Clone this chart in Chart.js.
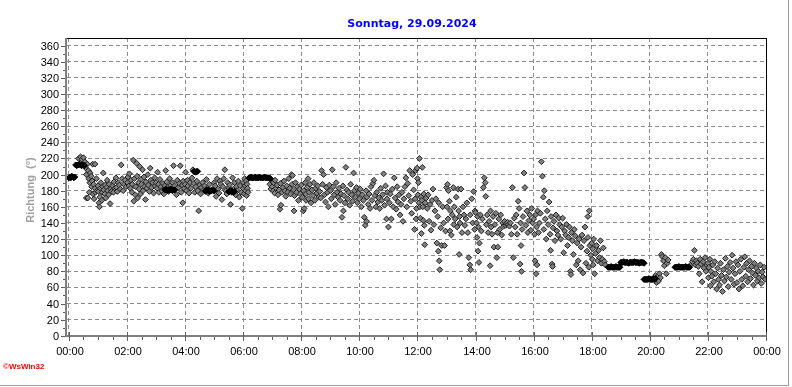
<!DOCTYPE html>
<html>
<head>
<meta charset="utf-8">
<script src="https://cdn.jsdelivr.net/npm/chart.js@4.4.1/dist/chart.umd.min.js"></script>
<style>
    html, body { margin: 0; padding: 0; background: #ffffff; }
    canvas { display: block; }
</style>
</head>
<body>
<canvas id="windChart" width="792" height="387"></canvas>
<script>
// Texte
const titel = 'Sonntag, 29.09.2024';
const yTitel = 'Richtung  (°)';
const copyright = '©WsWin32';

// Achsen (Zeit in Minuten seit Mitternacht)
const xTicks = [0, 120, 240, 360, 480, 600, 720, 840, 960, 1080, 1200, 1320, 1440];
const xTickLabels = ['00:00', '02:00', '04:00', '06:00', '08:00', '10:00', '12:00',
    '14:00', '16:00', '18:00', '20:00', '22:00', '00:00'];
const yTicks = [0, 20, 40, 60, 80, 100, 120, 140, 160, 180, 200, 220, 240, 260, 280, 300, 320, 340, 360];

// Messwerte [Minute, Richtung]
const punkteNacht = [
    [20,220],[24,222],[27,219],[30,221],[33,216],[35,208],[36,200],[36,171],[38,213],[39,171],[40,205],[41,195],
    [42,178],[43,190],[44,202],[46,198],[47,185],[48,192],[49,213],[50,176],[51,188],[52,170],[54,183],[54,213],
    [55,178],[57,195],[58,180],[60,186],
    [61,179],[62,165],[63,160],[64,172],[65,183],[66,190],[68,168],[69,178],[70,185],[71,202],[72,181],[74,176],
    [75,187],[76,171],[78,184],[79,193],[80,180],[82,175],[83,188],[85,164],[86,182],[88,179],[90,186],[92,178],
    [93,191],[95,183],[97,196],[98,184],[100,179],[102,190],[104,187],[106,182],[108,212],[110,195],[112,180],
    [114,188],[116,193],[118,185],
    [121,190],[122,197],[124,186],[125,201],[127,183],[128,193],[130,178],[131,188],[133,218],[134,167],[135,195],
    [137,175],[138,185],[140,214],[141,198],[142,171],[144,190],[145,182],[146,210],[148,176],[149,194],[150,188],
    [152,206],[153,180],[155,197],[156,185],[158,169],[159,191],[161,183],[163,200],[164,187],[166,179],[168,208],
    [169,193],[171,184],[173,190],[175,177],[177,196],[178,186],
    [180,190],[182,183],[183,203],[185,188],[186,178],[188,194],[190,185],[192,180],[194,189],[196,176],[198,186],
    [200,205],[202,191],[204,184],[206,179],[208,195],[210,187],[212,182],[214,190],[216,211],[218,186],[220,181],
    [222,175],[224,193],[226,184],[228,189],[230,211],[232,178],[234,187],[235,165],[236,192],[238,183],
    [240,188],[241,203],[243,180],[245,193],[246,186],[248,177],[250,190],[252,183],[254,196],[256,206],[258,189],
    [260,178],[262,185],[264,192],[266,180],[268,155],[270,187],[272,176],[274,184],[276,190],[278,181],[280,186],
    [282,179],[284,194],[286,183],[288,177],[290,188],
    [300,190],[302,186],[304,173],[306,195],[308,182],[310,177],[312,192],[314,188],[316,169],[318,185],[320,195],
    [322,206],[324,180],[326,176],[328,190],[330,184],[332,187],[334,163],[336,178],[338,196],[340,182],[342,190],
    [344,175],[346,185],[348,180],[350,192],[352,172],[354,186],[356,178],[358,158]
];

const punkteVormittag = [
    [360,183],[361,190],[362,176],[363,195],[364,186],[365,180],[366,192],[367,174],[368,188],[369,183],[370,178],
    [415,188],[417,182],[419,192],
    [420,185],[422,180],[423,190],[425,177],[426,193],[428,183],[430,187],[432,175],[434,181],[436,157],[437,189],
    [438,162],[440,178],[442,184],[444,192],[446,180],[448,173],[450,186],[452,178],[454,195],[456,183],[458,176],
    [460,200],[461,188],[462,199],[464,181],[465,155],[466,174],[468,190],[470,178],[472,185],[474,168],[476,182],
    [478,176],
    [480,187],[482,172],[484,155],[485,180],[486,158],[488,190],[489,176],[490,168],[492,184],[494,195],[495,170],
    [496,178],[498,188],[500,165],[502,181],[504,174],[506,190],[508,168],[510,183],[512,177],[514,186],[516,172],
    [518,179],[520,171],[522,205],[524,188],[526,200],[528,175],[530,166],[532,184],[534,178],[536,160],[538,187],
    [540,180],[542,170],[544,206],[546,185],[548,175],[550,163],[552,190],[554,178],[556,172],[558,183],[560,168],
    [562,176],[564,147],[566,186],[567,155],[568,174],[570,165],[572,209],[574,181],[576,170],[578,178],[580,162],
    [582,188],[584,175],[586,167],[588,202],[590,180],[592,172],[594,184],[596,165],[598,177],
    [600,170],[602,182],[604,160],[606,175],[608,168],[610,147],[612,137],[614,180],[615,142],[616,172],[618,163],
    [620,176],[622,158],[624,185],[626,168],[628,189],[630,193],[632,174],[634,160],[636,178],[638,166],[640,171],
    [642,158],[644,183],[646,168],[648,175],[650,201],[652,162],[654,186],[656,145],[657,170],[658,178],[660,135],
    [662,165],[664,176],[666,145],[668,182],[670,160],[672,196],[674,171],[676,157],[678,185],[680,166],[682,175],
    [684,150],[686,163],[688,178],[690,142],[692,170],[694,185],[696,196],[698,160],[700,189],[702,174],[704,205],
    [706,167],[708,152],[710,200],[712,181],[714,132],[715,170],[716,205],[717,145],[718,158],[719,208]
];

const punkteNachmittag = [
    [720,195],[721,175],[722,190],[723,165],[724,220],[725,160],[726,146],[727,172],[728,127],[729,168],[730,209],
    [731,160],[732,143],[733,176],[734,137],[735,113],[736,165],[738,171],[740,158],[742,175],[744,142],[746,163],
    [748,131],[750,168],[752,182],[754,138],[756,155],[758,170],[760,115],[762,148],[763,105],[764,165],[765,93],
    [766,82],[768,134],[770,112],[772,160],[774,140],[776,112],[778,130],
    [780,184],[781,160],[782,188],[783,145],[784,180],[786,167],[787,130],[788,155],[790,125],[792,150],[794,184],
    [795,138],[796,160],[798,145],[800,172],[802,135],[804,182],[805,155],[806,101],[807,148],[808,140],[810,182],
    [812,128],[814,160],[816,150],[818,137],[820,145],[822,165],[824,128],[826,97],[828,88],[829,150],[830,82],
    [832,170],[834,140],[836,179],[838,132],[839,155],
    [840,153],[842,140],[843,122],[844,148],[845,105],[846,135],[847,91],[848,115],[850,150],[852,130],[854,145],
    [856,184],[858,196],[860,190],[861,173],[862,138],[864,150],[866,128],[868,142],[870,87],[871,155],[872,135],
    [874,126],[876,148],[878,110],[880,138],[882,152],[884,97],[885,128],[886,110],[888,145],[890,132],[892,150],
    [894,125],[896,140],[898,136],
    [900,142],[902,137],[904,139],[906,141],[908,138],[910,136],[912,140],[914,126],[916,184],[918,97],[920,146],
    [922,135],[924,150],[926,126],[928,167],[930,158],[932,89],[933,140],[934,112],[935,80],[936,132],[938,148],
    [940,202],[942,184],[944,137],[946,155],[948,128],[950,143],[952,150],[954,131],[956,158],[958,140],
    [960,145],[962,126],[963,93],[964,150],[965,77],[966,135],[967,88],[968,155],[970,128],[972,140],[974,152],
    [976,216],[978,198],[980,172],[981,132],[982,180],[984,145],[986,120],[988,155],[990,138],[992,166],[994,126],
    [995,106],[996,148],[998,89],[999,86],[1000,134],[1002,142],[1004,118],[1006,150],[1008,130],[1010,125],
    [1012,146],[1014,138],[1016,120],[1018,135],
    [1020,146],[1022,103],[1024,130],[1026,125],[1028,138],[1030,112],[1032,122],[1034,135],[1036,80],[1037,76],
    [1038,128],[1040,118],[1042,101],[1044,132],[1046,124],[1048,88],[1050,115],[1052,93],[1054,120],[1056,82],
    [1058,110],[1060,125],[1062,78],[1064,118],[1066,135],[1068,90],[1070,105],[1072,148],[1072,122],[1074,85],
    [1075,155],[1076,112],[1078,100]
];

const punkteAbend = [
    [1080,115],[1081,95],[1082,108],[1083,88],[1084,120],[1086,77],[1088,102],[1090,112],[1092,93],[1094,106],
    [1096,97],[1098,118],[1100,90],[1102,95],[1104,109],[1106,92],[1108,88],
    [1210,70],[1212,75],[1214,66],[1216,73],[1218,68],[1220,77],[1222,72],[1224,101],[1226,98],[1228,93],[1230,87],
    [1232,97],[1234,77],[1236,90],[1238,94],
    [1286,89],[1288,92],[1290,95],[1292,106],[1294,88],[1296,93],[1298,90],[1300,86],[1302,77],[1304,95],[1306,89],
    [1308,67],[1310,92],[1312,84],[1314,97],[1316,80],[1318,88],
    [1320,90],[1321,72],[1322,85],[1324,95],[1325,62],[1326,80],[1328,74],[1330,88],[1332,67],[1334,92],[1336,77],
    [1338,58],[1340,84],[1342,70],[1344,63],[1346,90],[1348,75],[1350,55],[1352,82],[1354,68],[1356,96],[1358,73],
    [1360,86],[1362,61],[1364,79],[1366,91],[1368,70],[1370,100],[1372,84],[1374,64],[1376,77],[1378,92],
    [1380,66],[1382,88],[1384,58],[1386,80],[1388,95],[1390,70],[1392,62],[1394,85],[1396,98],[1398,74],[1400,90],
    [1402,67],[1404,82],[1406,93],[1408,71],[1410,86],[1412,78],[1414,63],[1416,90],[1418,75],[1420,84],[1422,68],
    [1424,80],[1426,72],[1428,88],[1430,65],[1432,79],[1434,73],[1436,85],[1438,70]
];

// Phasen mit konstanter Richtung (erscheinen als schwarze Balken)
const konstantePhasen = [
    [0,196],[2,197],[4,196],[6,198],[8,197],[10,196],[12,197],
    [14,212],[16,211],[18,212],[20,212],[22,213],[24,212],[26,211],[28,212],[30,212],[32,211],
    [198,181],[200,182],[202,181],[204,180],[206,181],[208,181],[210,182],[212,181],[214,180],[216,181],[218,181],
    [258,204],[260,204],[262,203],[264,204],[266,204],
    [282,180],[284,180],[286,181],[288,180],[290,179],[292,180],[294,180],[296,181],[298,180],[300,180],
    [330,179],[332,179],[334,180],[336,179],[338,179],[340,178],[342,179],
    [372,196],[374,196],[376,197],[378,196],[380,196],[382,196],[384,197],[386,196],[388,196],[390,196],[392,196],
    [394,197],[396,196],[398,196],[400,196],[402,196],[404,197],[406,196],[408,196],[410,196],[412,196],[414,196],
    [416,195],
    [1114,85],[1116,85],[1118,85],[1120,86],[1122,85],[1124,85],[1126,85],[1128,85],[1130,86],[1132,85],[1134,85],
    [1136,85],[1138,85],
    [1140,91],[1142,91],[1144,91],[1146,92],[1148,91],[1150,91],[1152,91],[1154,91],[1156,90],[1158,91],[1160,91],
    [1162,91],[1164,91],[1166,91],[1168,92],[1170,91],[1172,91],[1174,91],[1176,91],[1178,90],[1180,91],[1182,91],
    [1184,91],[1186,91],[1188,90],
    [1188,70],[1190,70],[1192,70],[1194,70],[1196,70],[1198,71],[1200,70],[1202,70],[1204,70],[1206,70],[1208,71],
    [1210,70],[1212,71],
    [1252,85],[1254,85],[1256,85],[1258,85],[1260,86],[1262,85],[1264,85],[1266,85],[1268,85],[1270,85],[1272,85],
    [1274,86],[1276,85],[1278,85],[1280,85],[1282,85]
];

const messwerte = [...punkteNacht, ...punkteVormittag, ...punkteNachmittag, ...punkteAbend];

function toXY(pairs) {
    return pairs.map(p => ({ x: p[0], y: p[1] }));
}

// Rahmen, Achsen, Beschriftungen wie im WsWin-Original
const rahmenPlugin = {
    id: 'rahmen',
    afterDraw(chart) {
        const { ctx, chartArea: a, scales } = chart;
        const x = scales.x, y = scales.y;
        ctx.save();

        // Achslinien grau
        ctx.fillStyle = '#808080';
        ctx.fillRect(a.left - 2, a.top, 2, a.bottom - a.top);
        ctx.fillRect(a.left - 2, a.bottom - 2, a.right - a.left + 2, 2);

        // oben / rechts schwarz
        ctx.fillStyle = '#000000';
        ctx.fillRect(a.left, a.top, a.right - a.left, 1);
        ctx.fillRect(a.right - 1, a.top, 1, a.bottom - a.top - 2);

        // Y-Ticks
        ctx.fillStyle = '#606060';
        for (let v = 0; v <= 360; v += 10) {
            const py = Math.round(y.getPixelForValue(v));
            if (v % 20 === 0) ctx.fillRect(a.left - 6, py, 4, 1);
            else ctx.fillRect(a.left - 4, py, 2, 1);
        }
        // X-Ticks
        for (let m = 0; m <= 1440; m += 30) {
            const px = Math.round(x.getPixelForValue(m));
            if (m % 120 === 0) ctx.fillRect(px, a.bottom - 5, 1, 9);
            else ctx.fillRect(px, a.bottom, 1, 3);
        }

        // Tick-Beschriftungen
        ctx.fillStyle = '#000000';
        ctx.font = '11px "Liberation Sans", Arial, sans-serif';
        ctx.textAlign = 'right';
        ctx.textBaseline = 'middle';
        yTicks.forEach(v => {
            ctx.fillText(String(v), 59, Math.round(y.getPixelForValue(v)) + 1);
        });
        ctx.textAlign = 'center';
        ctx.textBaseline = 'top';
        xTicks.forEach((m, i) => {
            ctx.fillText(xTickLabels[i], Math.round(x.getPixelForValue(m)) + 1, 346);
        });

        // Titel
        ctx.fillStyle = '#0000ff';
        ctx.font = 'bold 11px "DejaVu Sans", Verdana, sans-serif';
        ctx.textBaseline = 'middle';
        ctx.fillText(titel, 412, 24);

        // Y-Achsentitel
        ctx.save();
        ctx.translate(31, 190);
        ctx.rotate(-Math.PI / 2);
        ctx.fillStyle = '#a0a0a0';
        ctx.font = 'bold 11px "Liberation Sans", Arial, sans-serif';
        ctx.textAlign = 'center';
        ctx.textBaseline = 'middle';
        ctx.fillText(yTitel, 0, 0);
        ctx.restore();

        // Copyright
        ctx.fillStyle = '#ff0000';
        ctx.font = 'bold 8px "Liberation Sans", Arial, sans-serif';
        ctx.textAlign = 'left';
        ctx.textBaseline = 'middle';
        ctx.fillText(copyright, 3, 367);

        // äußerer Rand
        ctx.fillStyle = '#a0a0a0';
        ctx.fillRect(788, 0, 1, 386);
        ctx.fillRect(0, 385, 789, 1);

        ctx.restore();
    }
};

const gridOpts = {
    color: '#8c8c8c',
    lineWidth: 1,
    drawTicks: false
};

new Chart(document.getElementById('windChart'), {
    type: 'scatter',
    data: {
        datasets: [
            {
                label: 'Richtung konstant',
                data: toXY(konstantePhasen),
                pointStyle: 'rectRot',
                pointRadius: 3,
                backgroundColor: '#000000',
                borderColor: '#000000',
                borderWidth: 1
            },
            {
                label: 'Richtung',
                data: toXY(messwerte),
                pointStyle: 'rectRot',
                pointRadius: 2.9,
                backgroundColor: '#808080',
                borderColor: '#202020',
                borderWidth: 1
            }
        ]
    },
    options: {
        responsive: false,
        animation: false,
        devicePixelRatio: 1,
        layout: { padding: { left: 0, top: 38, right: 25, bottom: 0 } },
        plugins: {
            legend: { display: false },
            title: { display: false },
            tooltip: { enabled: false }
        },
        scales: {
            x: {
                type: 'linear',
                min: -4,
                max: 1442,
                afterBuildTicks: s => { s.ticks = xTicks.map(v => ({ value: v })); },
                afterFit: s => { s.height = 50; },
                ticks: { display: false },
                grid: gridOpts,
                border: { display: false, dash: [4, 3] }
            },
            y: {
                min: -1.5,
                max: 369.5,
                afterBuildTicks: s => { s.ticks = yTicks.map(v => ({ value: v })); },
                afterFit: s => { s.width = 67; },
                ticks: { display: false },
                grid: gridOpts,
                border: { display: false, dash: [4, 3] }
            }
        }
    },
    plugins: [rahmenPlugin]
});
</script>
</body>
</html>
